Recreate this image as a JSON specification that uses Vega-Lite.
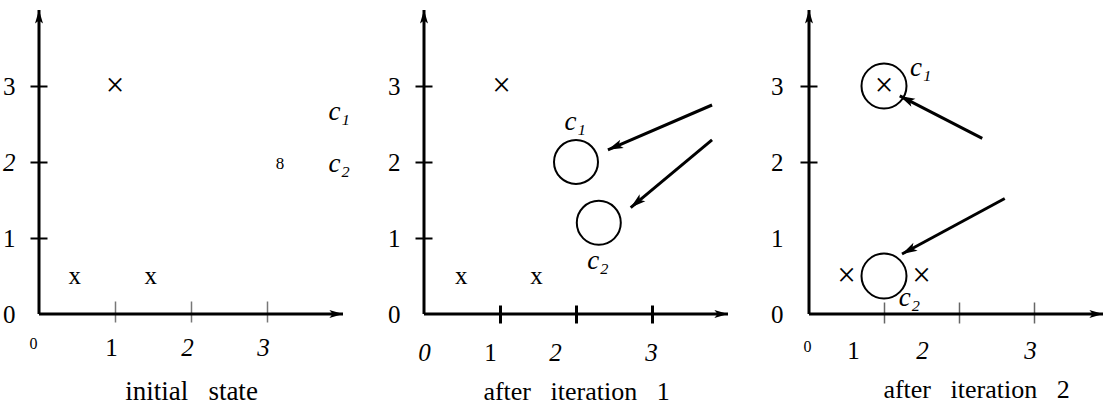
{
  "$schema": "https://vega.github.io/schema/vega-lite/v6.json",
  "padding": {"left": 2, "top": 8, "right": 0, "bottom": 0},
  "background": "white",
  "datasets": {
    "pts": [
      {"panel": 1, "x": 1.0, "y": 3.0, "g": "×"},
      {"panel": 1, "x": 0.47, "y": 0.5, "g": "x"},
      {"panel": 1, "x": 1.47, "y": 0.5, "g": "x"},
      {"panel": 2, "x": 1.02, "y": 3.0, "g": "×"},
      {"panel": 2, "x": 0.49, "y": 0.5, "g": "x"},
      {"panel": 2, "x": 1.48, "y": 0.5, "g": "x"},
      {"panel": 3, "x": 1.0, "y": 3.0, "g": "×"},
      {"panel": 3, "x": 0.5, "y": 0.5, "g": "×"},
      {"panel": 3, "x": 1.5, "y": 0.5, "g": "×"}
    ],
    "lbls": [
      {"panel": 1, "x": 3.95, "y": 2.66, "t": "c₁"},
      {"panel": 1, "x": 3.95, "y": 1.97, "t": "c₂"},
      {"panel": 2, "x": 1.99, "y": 2.52, "t": "c₁"},
      {"panel": 2, "x": 2.29, "y": 0.7, "t": "c₂"},
      {"panel": 3, "x": 1.49, "y": 3.24, "t": "c₁"},
      {"panel": 3, "x": 1.34, "y": 0.21, "t": "c₂"}
    ],
    "circles": [
      {"panel": 2, "x": 2.0, "y": 2.0, "c": "c1"},
      {"panel": 2, "x": 2.3, "y": 1.2, "c": "c2"},
      {"panel": 3, "x": 1.0, "y": 3.0, "c": "c1"},
      {"panel": 3, "x": 1.0, "y": 0.5, "c": "c2"}
    ],
    "arrows": [
      {"panel": 2, "x": 3.79, "y": 2.75, "x2": 2.42, "y2": 2.16},
      {"panel": 2, "x": 3.79, "y": 2.29, "x2": 2.72, "y2": 1.4},
      {"panel": 3, "x": 2.31, "y": 2.31, "x2": 1.21, "y2": 2.87},
      {"panel": 3, "x": 2.61, "y": 1.52, "x2": 1.24, "y2": 0.79}
    ]
  },
  "spacing": 81,
  "bounds": "flush",
  "hconcat": [
    {
      "width": 304,
      "height": 304,
      "layer": [
        {
          "data": {"values": [{}]},
          "mark": {"type": "rule", "strokeWidth": 3, "color": "black"},
          "encoding": {
            "y": {"datum": 0, "type": "quantitative", "scale": {"domain": [0, 4], "nice": false, "zero": false},
              "axis": {"title": null, "values": [0, 1, 2, 3], "format": "d", "offset": -8, "tickSize": 17, "tickWidth": 2, "tickColor": "black",
                "tickOpacity": {"condition": {"test": "datum.value == 0", "value": 0}, "value": 1},
                "labelFontSize": 25, "labelPadding": 15,
                "labelFontStyle": {"condition": {"test": "datum.value == 2", "value": "italic"}, "value": "normal"}}}
          }
        },
        {
          "data": {"values": [{}]},
          "mark": {"type": "rule", "strokeWidth": 3, "color": "black"},
          "encoding": {
            "x": {"datum": 0, "type": "quantitative", "scale": {"domain": [0, 4], "nice": false, "zero": false},
              "axis": {"title": "initial\u00a0\u00a0\u00a0state", "values": [0, 1, 2, 3], "format": "d", "offset": -13, "tickSize": 21, "tickWidth": 1.5, "tickColor": "#777777",
                "tickOpacity": {"condition": {"test": "datum.value == 0", "value": 0}, "value": 1},
                "labelFontSize": {"condition": {"test": "datum.value == 0", "value": 16}, "value": 25},
                "labelFontStyle": {"condition": {"test": "datum.value >= 2", "value": "italic"}, "value": "normal"},
                "labelOffset": {"condition": {"test": "datum.value == 0", "value": -6}, "value": -4},
                "labelPadding": 13, "titleFontSize": 27, "titlePadding": 18}}
          }
        },
        {
          "data": {"values": [{}]},
          "mark": {"type": "point", "shape": "M0,0L-0.5,1.7L0,1.3L0.5,1.7Z", "filled": true, "size": 256, "color": "black", "opacity": 1, "angle": 90},
          "encoding": {"x": {"datum": 4, "type": "quantitative"}, "y": {"datum": 0, "type": "quantitative"}}
        },
        {
          "data": {"values": [{}]},
          "mark": {"type": "point", "shape": "M0,0L-0.5,1.7L0,1.3L0.5,1.7Z", "filled": true, "size": 256, "color": "black", "opacity": 1, "angle": 0},
          "encoding": {"x": {"datum": 0, "type": "quantitative"}, "y": {"datum": 4, "type": "quantitative"}}
        },
        {
          "data": {"name": "pts"},
          "transform": [{"filter": "datum.panel == 1"}],
          "mark": {"type": "text", "baseline": "middle"},
          "encoding": {"x": {"field": "x", "type": "quantitative"}, "y": {"field": "y", "type": "quantitative"}, "text": {"field": "g"},
            "size": {"condition": {"test": "datum.g == '×'", "value": 33}, "value": 25}}
        },
        {
          "data": {"name": "lbls"},
          "transform": [{"filter": "datum.panel == 1"}],
          "mark": {"type": "text", "fontSize": 27, "fontStyle": "italic", "baseline": "middle"},
          "encoding": {"x": {"field": "x", "type": "quantitative"}, "y": {"field": "y", "type": "quantitative"}, "text": {"field": "t"}}
        },
        {
          "data": {"values": [{"x": 3.17, "y": 1.97, "t": "8"}]},
          "mark": {"type": "text", "fontSize": 17, "baseline": "middle"},
          "encoding": {"x": {"field": "x", "type": "quantitative"}, "y": {"field": "y", "type": "quantitative"}, "text": {"field": "t"}}
        }
      ]
    },
    {
      "width": 304,
      "height": 304,
      "layer": [
        {
          "data": {"values": [{}]},
          "mark": {"type": "rule", "strokeWidth": 3, "color": "black"},
          "encoding": {
            "y": {"datum": 0, "type": "quantitative", "scale": {"domain": [0, 4], "nice": false, "zero": false},
              "axis": {"title": null, "values": [0, 1, 2, 3], "format": "d", "offset": -8, "tickSize": 17, "tickWidth": 2, "tickColor": "black",
                "tickOpacity": {"condition": {"test": "datum.value == 0", "value": 0}, "value": 1},
                "labelFontSize": 25, "labelPadding": 15}}
          }
        },
        {
          "data": {"values": [{}]},
          "mark": {"type": "rule", "strokeWidth": 3, "color": "black"},
          "encoding": {
            "x": {"datum": 0, "type": "quantitative", "scale": {"domain": [0, 4], "nice": false, "zero": false},
              "axis": {"title": "after\u00a0\u00a0\u00a0iteration\u00a0\u00a0\u00a01", "values": [0, 1, 2, 3], "format": "d", "offset": -9, "tickSize": 18, "tickWidth": 3, "tickColor": "black",
                "tickOpacity": {"condition": {"test": "datum.value == 0", "value": 0}, "value": 1},
                "labelFontSize": 25,
                "labelFontStyle": {"condition": {"test": "datum.value != 1", "value": "italic"}, "value": "normal"},
                "labelOffset": {"condition": [{"test": "datum.value == 1", "value": -10}, {"test": "datum.value == 2", "value": -21}, {"test": "datum.value == 3", "value": -1}], "value": 0},
                "labelPadding": 17, "titleFontSize": 26, "titlePadding": 13}}
          }
        },
        {
          "data": {"values": [{}]},
          "mark": {"type": "point", "shape": "M0,0L-0.5,1.7L0,1.3L0.5,1.7Z", "filled": true, "size": 256, "color": "black", "opacity": 1, "angle": 90},
          "encoding": {"x": {"datum": 4, "type": "quantitative"}, "y": {"datum": 0, "type": "quantitative"}}
        },
        {
          "data": {"values": [{}]},
          "mark": {"type": "point", "shape": "M0,0L-0.5,1.7L0,1.3L0.5,1.7Z", "filled": true, "size": 256, "color": "black", "opacity": 1, "angle": 0},
          "encoding": {"x": {"datum": 0, "type": "quantitative"}, "y": {"datum": 4, "type": "quantitative"}}
        },
        {
          "data": {"name": "circles"},
          "transform": [{"filter": "datum.panel == 2"}],
          "mark": {"type": "point", "shape": "circle", "size": 1936, "filled": false, "color": "black", "strokeWidth": 2, "opacity": 1},
          "encoding": {"x": {"field": "x", "type": "quantitative"}, "y": {"field": "y", "type": "quantitative"}}
        },
        {
          "data": {"name": "arrows"},
          "transform": [{"filter": "datum.panel == 2"}, {"calculate": "atan2(datum.x2 - datum.x, datum.y2 - datum.y) * 180 / PI", "as": "ang"}],
          "layer": [
            {
              "mark": {"type": "rule", "strokeWidth": 3, "color": "black"},
              "encoding": {"x": {"field": "x", "type": "quantitative"}, "y": {"field": "y", "type": "quantitative"}, "x2": {"field": "x2"}, "y2": {"field": "y2"}}
            },
            {
              "mark": {"type": "point", "shape": "M0,0L-0.5,1.7L0,1.3L0.5,1.7Z", "filled": true, "size": 324, "color": "black", "opacity": 1},
              "encoding": {"x": {"field": "x2", "type": "quantitative"}, "y": {"field": "y2", "type": "quantitative"}, "angle": {"field": "ang", "type": "quantitative", "scale": null}}
            }
          ]
        },
        {
          "data": {"name": "pts"},
          "transform": [{"filter": "datum.panel == 2"}],
          "mark": {"type": "text", "baseline": "middle"},
          "encoding": {"x": {"field": "x", "type": "quantitative"}, "y": {"field": "y", "type": "quantitative"}, "text": {"field": "g"},
            "size": {"condition": {"test": "datum.g == '×'", "value": 33}, "value": 25}}
        },
        {
          "data": {"name": "lbls"},
          "transform": [{"filter": "datum.panel == 2"}],
          "mark": {"type": "text", "fontSize": 27, "fontStyle": "italic", "baseline": "middle"},
          "encoding": {"x": {"field": "x", "type": "quantitative"}, "y": {"field": "y", "type": "quantitative"}, "text": {"field": "t"}}
        }
      ]
    },
    {
      "width": 294,
      "height": 304,
      "layer": [
        {
          "data": {"values": [{}]},
          "mark": {"type": "rule", "strokeWidth": 3, "color": "black"},
          "encoding": {
            "y": {"datum": 0, "type": "quantitative", "scale": {"domain": [0, 4], "nice": false, "zero": false},
              "axis": {"title": null, "values": [0, 1, 2, 3], "format": "d", "offset": -8, "tickSize": 17, "tickWidth": 2, "tickColor": "black",
                "tickOpacity": {"condition": {"test": "datum.value <= 1", "value": 0}, "value": 1},
                "labelFontSize": 25, "labelPadding": 17}}
          }
        },
        {
          "data": {"values": [{}]},
          "mark": {"type": "rule", "strokeWidth": 3, "color": "black"},
          "encoding": {
            "x": {"datum": 0, "type": "quantitative", "scale": {"domain": [0, 3.92], "nice": false, "zero": false},
              "axis": {"title": "after\u00a0\u00a0\u00a0iteration\u00a0\u00a0\u00a02", "titleX": 167, "values": [0, 1, 2, 3], "format": "d", "offset": -12, "tickSize": 21, "tickWidth": 1.5, "tickColor": "#666666",
                "tickOpacity": {"condition": {"test": "datum.value == 0", "value": 0}, "value": 1},
                "labelFontSize": {"condition": {"test": "datum.value == 0", "value": 16}, "value": 25},
                "labelFontStyle": {"condition": {"test": "datum.value >= 2", "value": "italic"}, "value": "normal"},
                "labelOffset": {"condition": [{"test": "datum.value == 0", "value": -2}, {"test": "datum.value == 1", "value": -31}, {"test": "datum.value == 2", "value": -37}], "value": -4},
                "labelPadding": 15, "titleFontSize": 26, "titlePadding": 13}}
          }
        },
        {
          "data": {"values": [{}]},
          "mark": {"type": "point", "shape": "M0,0L-0.5,1.7L0,1.3L0.5,1.7Z", "filled": true, "size": 256, "color": "black", "opacity": 1, "angle": 90},
          "encoding": {"x": {"datum": 3.92, "type": "quantitative"}, "y": {"datum": 0, "type": "quantitative"}}
        },
        {
          "data": {"values": [{}]},
          "mark": {"type": "point", "shape": "M0,0L-0.5,1.7L0,1.3L0.5,1.7Z", "filled": true, "size": 256, "color": "black", "opacity": 1, "angle": 0},
          "encoding": {"x": {"datum": 0, "type": "quantitative"}, "y": {"datum": 4, "type": "quantitative"}}
        },
        {
          "data": {"name": "circles"},
          "transform": [{"filter": "datum.panel == 3"}],
          "mark": {"type": "point", "shape": "circle", "size": 2025, "filled": false, "color": "black", "strokeWidth": 2, "opacity": 1},
          "encoding": {"x": {"field": "x", "type": "quantitative"}, "y": {"field": "y", "type": "quantitative"}}
        },
        {
          "data": {"name": "arrows"},
          "transform": [{"filter": "datum.panel == 3"}, {"calculate": "atan2(datum.x2 - datum.x, datum.y2 - datum.y) * 180 / PI", "as": "ang"}],
          "layer": [
            {
              "mark": {"type": "rule", "strokeWidth": 3, "color": "black"},
              "encoding": {"x": {"field": "x", "type": "quantitative"}, "y": {"field": "y", "type": "quantitative"}, "x2": {"field": "x2"}, "y2": {"field": "y2"}}
            },
            {
              "mark": {"type": "point", "shape": "M0,0L-0.5,1.7L0,1.3L0.5,1.7Z", "filled": true, "size": 324, "color": "black", "opacity": 1},
              "encoding": {"x": {"field": "x2", "type": "quantitative"}, "y": {"field": "y2", "type": "quantitative"}, "angle": {"field": "ang", "type": "quantitative", "scale": null}}
            }
          ]
        },
        {
          "data": {"name": "pts"},
          "transform": [{"filter": "datum.panel == 3"}],
          "mark": {"type": "text", "baseline": "middle"},
          "encoding": {"x": {"field": "x", "type": "quantitative"}, "y": {"field": "y", "type": "quantitative"}, "text": {"field": "g"},
            "size": {"condition": {"test": "datum.g == '×'", "value": 33}, "value": 25}}
        },
        {
          "data": {"name": "lbls"},
          "transform": [{"filter": "datum.panel == 3"}],
          "mark": {"type": "text", "fontSize": 27, "fontStyle": "italic", "baseline": "middle"},
          "encoding": {"x": {"field": "x", "type": "quantitative"}, "y": {"field": "y", "type": "quantitative"}, "text": {"field": "t"}}
        }
      ]
    }
  ],
  "config": {
    "view": {"stroke": null},
    "axis": {"labelFont": "Liberation Serif", "titleFont": "Liberation Serif", "labelColor": "black", "titleColor": "black", "titleFontWeight": "normal", "grid": false, "domain": false, "labelFlush": false, "labelOverlap": false},
    "text": {"font": "Liberation Serif", "color": "black"}
  }
}
